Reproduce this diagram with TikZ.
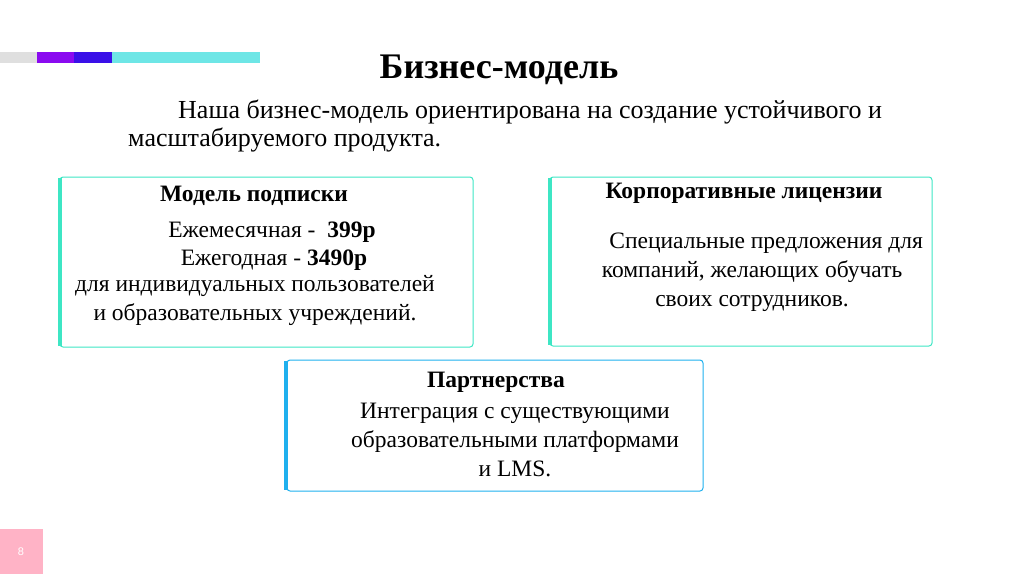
\documentclass[tikz,border=0pt]{standalone}
\usepackage{fontspec}
\setmainfont{Liberation Serif}
\setsansfont{Liberation Sans}
\definecolor{teal1}{HTML}{3EE6C4}
\definecolor{blue1}{HTML}{1FB0EE}
\definecolor{pinkb}{HTML}{FFB3C6}
\definecolor{barp}{HTML}{8A0AF0}
\definecolor{barb}{HTML}{3A10E8}
\definecolor{barc}{HTML}{6EE6E6}
\tikzset{card/.style={draw=#1,line width=1pt,rounded corners=3pt},
 txt/.style={font=\fontsize{23.5}{29}\selectfont,align=center,inner sep=0},
 hd/.style={font=\fontsize{23.5}{29}\selectfont\bfseries,inner sep=0}}
\begin{document}
\begin{tikzpicture}[x=1pt,y=-1pt]
\useasboundingbox (0,0) rectangle (1024,574);
\fill[gray!25] (0,52) rectangle (37,63);
\fill[barp] (37,52) rectangle (74,63);
\fill[barb] (74,52) rectangle (112,63);
\fill[barc] (112,52) rectangle (260,63);
\node[font=\fontsize{36}{40}\selectfont\bfseries,inner sep=0] (title) at (499,70) {Бизнес-модель};
\node[txt,font=\fontsize{26}{30}\selectfont,anchor=west] (l1) at (178,112) {Наша бизнес-модель ориентирована на создание устойчивого и};
\node[txt,font=\fontsize{26}{30}\selectfont,anchor=west] (l2) at (128,140) {масштабируемого продукта.};
% box1
\draw[card=teal1] (60,177) rectangle (473,347);
\fill[teal1] (58,178) rectangle (62,346);
\node[hd] (h1) at (254,196) {Модель подписки};
\node[txt] (b1a) at (272,232) {Ежемесячная -\ \ \textbf{399р}};
\node[txt] (b1b) at (274,260) {Ежегодная - \textbf{3490р}};
\node[txt] (b1c) at (255,300) {для индивидуальных пользователей\\и образовательных учреждений.};
% box2
\draw[card=teal1] (550,177) rectangle (932,346);
\fill[teal1] (548,178) rectangle (552,345);
\node[hd] (h2) at (744,193) {Корпоративные лицензии};
\node[txt] (b2) at (752,272) {\hspace*{1.2em}Специальные предложения для\\компаний, желающих обучать\\своих сотрудников.};
% box3
\draw[card=blue1] (287,360) rectangle (703,491);
\fill[blue1] (284,361) rectangle (288,490);
\node[hd] (h3) at (496,382) {Партнерства};
\node[txt] (b3) at (515,440) {Интеграция с существующими\\образовательными платформами\\и LMS.};
\fill[pinkb] (0,529) rectangle (43,574);
\node[font=\sffamily\fontsize{11}{13}\selectfont,text=white] (pg) at (21,552) {8};
\end{tikzpicture}
\end{document}
